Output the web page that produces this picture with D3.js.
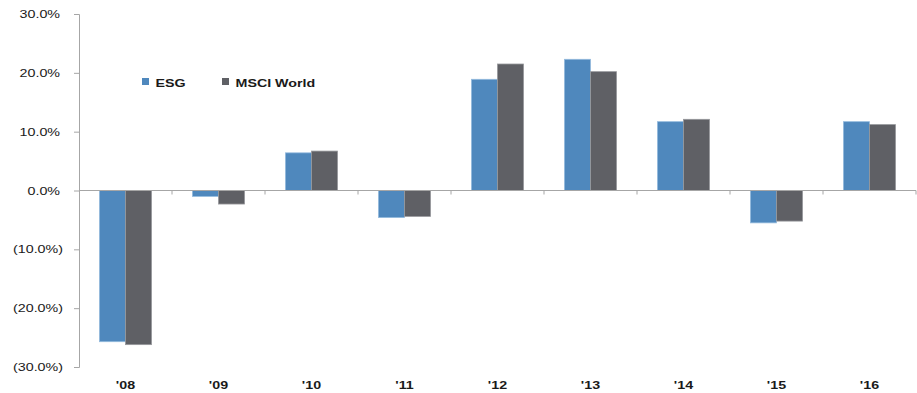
<!DOCTYPE html>
<html>
<head>
<meta charset="utf-8">
<script src="https://cdn.jsdelivr.net/npm/d3@7/dist/d3.min.js"></script>
<style>
  html, body { margin: 0; padding: 0; background: #ffffff; }
  svg { display: block; font-family: "Liberation Sans", Arial, sans-serif; }
</style>
</head>
<body>
<svg id="chart" width="917" height="393"></svg>
<script>
// Annual returns (%), ESG portfolio vs MSCI World
const years = ["'08", "'09", "'10", "'11", "'12", "'13", "'14", "'15", "'16"];
const esg = [-25.7, -1.0, 6.4, -4.6, 18.9, 22.3, 11.7, -5.5, 11.7];
const msciWorld = [-26.2, -2.3, 6.7, -4.4, 21.5, 20.2, 12.1, -5.2, 11.2];
const seriesNames = ["ESG", "MSCI World"];
const yTicks = [30, 20, 10, 0, -10, -20, -30];

const colors = { "ESG": "#4f88bd", "MSCI World": "#5f6065" };
const edges = { "ESG": "#93badd", "MSCI World": "#97989c" };

const svg = d3.select("#chart");
const plot = { left: 79, right: 916, top: 14, bottom: 367 };

const y = d3.scaleLinear().domain([-30, 30]).range([plot.bottom, plot.top]);
const x = d3.scaleBand().domain(years).range([plot.left, plot.right]);
const groupW = x.bandwidth() * 0.56;
const xs = d3.scaleBand().domain(seriesNames)
  .range([(x.bandwidth() - groupW) / 2, (x.bandwidth() + groupW) / 2]);

// Labels are set in a horizontally widened face; stretch glyphs to match
const STRETCH = 1.24;
function stretch(sel) {
  sel.each(function () {
    const w = this.getComputedTextLength();
    d3.select(this).attr("textLength", w * STRETCH).attr("lengthAdjust", "spacingAndGlyphs");
  });
}

const fmt = v => v < 0 ? "(" + Math.abs(v).toFixed(1) + "%)" : v.toFixed(1) + "%";

// Bars
const rows = years.map((yr, i) => ({ year: yr, values: [
  { name: "ESG", value: esg[i] },
  { name: "MSCI World", value: msciWorld[i] }
]}));

const groups = svg.append("g").selectAll("g").data(rows).join("g")
  .attr("transform", d => `translate(${x(d.year)},0)`);

groups.selectAll("rect").data(d => d.values).join("rect")
  .attr("x", d => xs(d.name))
  .attr("width", xs.bandwidth())
  .attr("y", d => y(Math.max(0, d.value)))
  .attr("height", d => Math.abs(y(d.value) - y(0)))
  .attr("fill", d => colors[d.name])
  .attr("stroke", d => edges[d.name])
  .attr("stroke-width", 0.8);

// Y axis
const yAxis = d3.axisLeft(y).tickValues(yTicks).tickSize(5).tickFormat("");
const yg = svg.append("g").attr("transform", `translate(${plot.left},0)`).call(yAxis);
yg.select(".domain").attr("stroke", "#a6a6a6");
yg.selectAll(".tick line").attr("stroke", "#a6a6a6");

svg.append("g").selectAll("text").data(yTicks).join("text")
  .attr("x", d => d < 0 ? 63 : 60)
  .attr("y", d => y(d) + 1)
  .attr("text-anchor", "end")
  .attr("dominant-baseline", "middle")
  .attr("font-size", 11.5)
  .attr("fill", "#1a1a1a")
  .text(fmt)
  .call(stretch);

// X axis at zero with category boundary ticks
const xg = svg.append("g");
xg.append("line")
  .attr("x1", plot.left).attr("x2", plot.right)
  .attr("y1", y(0)).attr("y2", y(0))
  .attr("stroke", "#a6a6a6");
xg.selectAll("line.tick").data(years).join("line")
  .attr("class", "tick")
  .attr("x1", d => x(d) + x.bandwidth()).attr("x2", d => x(d) + x.bandwidth())
  .attr("y1", y(0)).attr("y2", y(0) + 4)
  .attr("stroke", "#a6a6a6");

svg.append("g").selectAll("text").data(years).join("text")
  .attr("x", d => x(d) + x.bandwidth() / 2)
  .attr("y", 389)
  .attr("text-anchor", "middle")
  .attr("font-size", 11.5)
  .attr("font-weight", "bold")
  .attr("fill", "#1a1a1a")
  .text(d => d)
  .call(stretch);

// Legend
const legendPos = [{ name: "ESG", x: 142 }, { name: "MSCI World", x: 222 }];
const lg = svg.append("g").selectAll("g").data(legendPos).join("g")
  .attr("transform", d => `translate(${d.x},78)`);
lg.append("rect").attr("width", 7).attr("height", 7).attr("y", 0)
  .attr("fill", d => colors[d.name]);
lg.append("text")
  .attr("x", 13.5).attr("y", 8.6)
  .attr("font-size", 11.5)
  .attr("font-weight", "bold")
  .attr("fill", "#1a1a1a")
  .text(d => d.name)
  .call(stretch);
</script>
</body>
</html>
